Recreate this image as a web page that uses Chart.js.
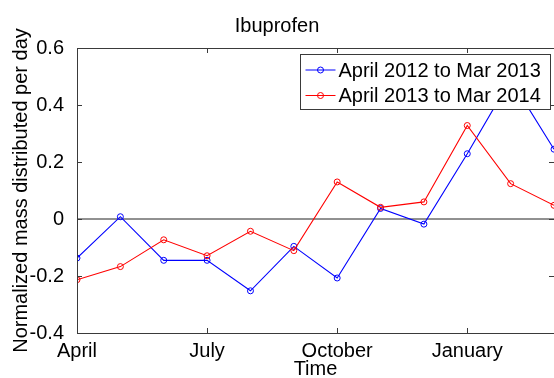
<!DOCTYPE html>
<html>
<head>
<meta charset="utf-8">
<script src="https://cdn.jsdelivr.net/npm/chart.js@4"></script>
<style>
  html, body { margin: 0; padding: 0; background: #fff; }
  #wrap { width: 554px; height: 378px; }
</style>
</head>
<body>
<div id="wrap"><canvas id="c" width="554" height="378"></canvas></div>
<script>
// Monthly positions: 0 = April ... 11 = March
const months = ['April','May','June','July','August','September','October','November','December','January','February','March'];
const xTickIdx = [0, 3, 6, 9];
const yTicks = [-0.4, -0.2, 0, 0.2, 0.4, 0.6];
const yTickLabels = ['-0.4', '-0.2', '0', '0.2', '0.4', '0.6'];

const seriesNames = ['April 2012 to Mar 2013', 'April 2013 to Mar 2014'];
const series2012 = [-0.137, 0.008, -0.145, -0.145, -0.252, -0.096, -0.207, 0.037, -0.018, 0.229, 0.49, 0.245];
const series2013 = [-0.213, -0.167, -0.073, -0.129, -0.043, -0.111, 0.130, 0.041, 0.060, 0.328, 0.124, 0.048];

const FONT = '"Liberation Sans", Arial, Helvetica, sans-serif';
const AXIS_COLOR = '#3a3a3a';

const toPoints = arr => arr.map((v, i) => ({ x: i, y: v }));

// Axes frame, inward ticks on all four sides, and the boxed legend
const matlabAxes = {
  id: 'matlabAxes',
  afterDatasetsDraw(chart) {
    const { ctx, chartArea: a, scales } = chart;
    const xs = scales.x, ys = scales.y;
    const tl = 5;
    const L = Math.round(a.left) + 0.5, T = Math.round(a.top) + 0.5;
    const B = Math.round(a.bottom) + 0.5, R = Math.round(a.right) + 0.5;
    ctx.save();
    ctx.strokeStyle = AXIS_COLOR;
    ctx.lineWidth = 1;
    ctx.beginPath();
    ctx.moveTo(R, T); ctx.lineTo(L, T); ctx.lineTo(L, B); ctx.lineTo(R, B);
    ctx.stroke();
    ctx.beginPath();
    xTickIdx.forEach(i => {
      const px = Math.round(xs.getPixelForValue(i)) + 0.5;
      ctx.moveTo(px, a.bottom); ctx.lineTo(px, a.bottom - tl);
      ctx.moveTo(px, a.top); ctx.lineTo(px, a.top + tl);
    });
    yTicks.forEach(v => {
      const py = Math.round(ys.getPixelForValue(v)) + 0.5;
      ctx.moveTo(a.left, py); ctx.lineTo(a.left + tl, py);
      ctx.moveTo(a.right, py); ctx.lineTo(a.right - tl, py);
    });
    ctx.stroke();

    // legend
    const bw = 250, bh = 55;
    const bx = Math.round(a.right - 4 - bw) + 0.5;
    const by = Math.round(a.top + 6) + 0.5;
    ctx.fillStyle = '#fff';
    ctx.fillRect(bx, by, bw, bh);
    ctx.strokeStyle = AXIS_COLOR;
    ctx.strokeRect(bx, by, bw, bh);
    ctx.font = '20px ' + FONT;
    ctx.textBaseline = 'middle';
    ctx.textAlign = 'left';
    const items = chart.data.datasets.filter(d => d.label);
    items.forEach((d, k) => {
      const cy = by + 15.5 + k * 25.5;
      ctx.strokeStyle = d.borderColor;
      ctx.lineWidth = 1;
      ctx.beginPath();
      ctx.moveTo(bx + 5, cy); ctx.lineTo(bx + 35, cy);
      ctx.stroke();
      ctx.beginPath();
      ctx.arc(bx + 20, cy, 3, 0, Math.PI * 2);
      ctx.stroke();
      ctx.fillStyle = '#000';
      ctx.fillText(d.label, bx + 38, cy + 1);
    });
    ctx.restore();
  }
};

new Chart(document.getElementById('c'), {
  type: 'line',
  data: {
    datasets: [
      {
        label: seriesNames[0],
        data: toPoints(series2012),
        borderColor: '#0000ff',
        backgroundColor: 'rgba(0,0,0,0)',
        borderWidth: 1.1,
        pointRadius: 3,
        pointBorderWidth: 1,
        pointBackgroundColor: 'rgba(0,0,0,0)',
        pointBorderColor: '#0000ff',
        tension: 0,
        order: 1
      },
      {
        label: seriesNames[1],
        data: toPoints(series2013),
        borderColor: '#ff0000',
        backgroundColor: 'rgba(0,0,0,0)',
        borderWidth: 1.1,
        pointRadius: 3,
        pointBorderWidth: 1,
        pointBackgroundColor: 'rgba(0,0,0,0)',
        pointBorderColor: '#ff0000',
        tension: 0,
        order: 0
      },
      {
        label: '',
        data: [{ x: 0, y: 0 }, { x: months.length - 1, y: 0 }],
        borderColor: '#222222',
        borderWidth: 1,
        pointRadius: 0,
        order: 5
      }
    ]
  },
  options: {
    responsive: false,
    animation: false,
    events: [],
    layout: { padding: 0, autoPadding: false },
    plugins: {
      legend: { display: false },
      tooltip: { enabled: false },
      title: {
        display: true,
        text: 'Ibuprofen',
        color: '#000',
        font: { family: FONT, size: 20, weight: 'normal', lineHeight: 1.2 },
        padding: { top: 14, bottom: 10 }
      }
    },
    scales: {
      x: {
        type: 'linear',
        min: 0,
        max: months.length - 1,
        afterFit: s => { s.height = 45; s.paddingLeft = 0; s.paddingRight = 0; },
        afterBuildTicks: s => { s.ticks = xTickIdx.map(v => ({ value: v })); },
        grid: { display: false },
        border: { display: false },
        ticks: {
          autoSkip: false,
          maxRotation: 0,
          padding: -2,
          color: '#000',
          font: { family: FONT, size: 20 },
          callback: v => months[v]
        },
        title: {
          display: true,
          text: 'Time',
          color: '#000',
          font: { family: FONT, size: 20, lineHeight: 1.2 },
          padding: { top: 0, bottom: -3 }
        }
      },
      y: {
        type: 'linear',
        min: yTicks[0],
        max: yTicks[yTicks.length - 1],
        afterFit: s => { s.width = 77; s.paddingTop = 0; s.paddingBottom = 0; },
        afterBuildTicks: s => { s.ticks = yTicks.map(v => ({ value: v })); },
        grid: { display: false },
        border: { display: false },
        ticks: {
          padding: 5,
          color: '#000',
          font: { family: FONT, size: 20 },
          callback: (v, i) => yTickLabels[i]
        },
        title: {
          display: true,
          text: 'Normalized mass distributed per day',
          color: '#000',
          font: { family: FONT, size: 20, lineHeight: 1.2 },
          padding: { top: 9, bottom: 0 }
        }
      }
    }
  },
  plugins: [matlabAxes]
});
</script>
</body>
</html>
